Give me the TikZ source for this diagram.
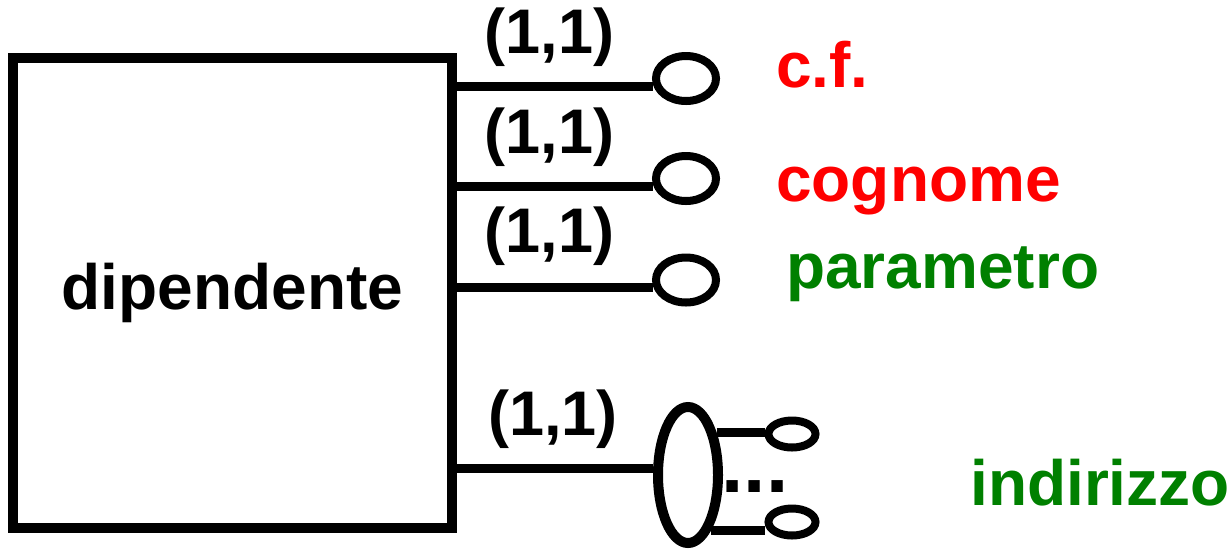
\documentclass[tikz,border=0pt]{standalone}
\usepackage{fontspec}
\setmainfont{Liberation Sans}
\usepackage{xcolor}
\usetikzlibrary{positioning, shapes.geometric}

\definecolor{keyred}{RGB}{255,0,0}
\definecolor{attrgreen}{RGB}{0,128,0}

\tikzset{
    entity/.style={draw, line width=10pt, minimum width=439pt, minimum height=470pt, inner sep=0pt},
    attr/.style={draw, ellipse, line width=8pt, minimum width=60pt, minimum height=45pt, inner sep=0pt},
    subattr/.style={draw, ellipse, line width=8pt, minimum width=47pt, minimum height=27pt, inner sep=0pt},
    link/.style={line width=9pt},
    card/.style={font=\fontsize{63}{63}\selectfont\bfseries, inner sep=0pt},
    attrname/.style={font=\fontsize{64}{64}\selectfont\bfseries, inner sep=0pt, anchor=base west}
}

\begin{document}
\begin{tikzpicture}[x=1pt, y=-1pt]
    \useasboundingbox (0,0) rectangle (1228,550);
	\node[entity] (dip) at (232.5,293) {\fontsize{64}{64}\selectfont\bfseries dipendente};
    % attributi semplici
    \node[attr] (cf) at (686,78.5) {};
    \node[attr] (cogn) at (686,178.5) {};
    \node[attr] (param) at (686,280) {};
    \draw[link] (dip.east |- cf.193) -- (cf.193) node[card, pos=.47, above=15pt] {(1,1)};
    \draw[link] (dip.east |- cogn.193) -- (cogn.193) node[card, pos=.47, above=15pt] {(1,1)};
    \draw[link] (dip.east |- param.193) -- (param.193) node[card, pos=.47, above=17pt] {(1,1)};
    \node[attrname, text=keyred] (cfname) at (776,87) {c.f.};
    \node[attrname, text=keyred] (cognname) at (776,201) {cognome};
    \node[attrname, text=attrgreen] (paramname) at (786,288) {parametro};
    % attributo composto
    \node[draw, ellipse, line width=10pt, minimum width=60pt, minimum height=136pt, inner sep=0pt] (ind) at (688,475) {};
    \draw[link] (dip.east |- ind.170) -- (ind.170) node[card, pos=.49, above=16pt] {(1,1)};
    \node[subattr] (sub1) at (792,434) {};
    \node[subattr] (sub2) at (792,522) {};
    \draw[link] (ind.56) -- (ind.56 -| sub1.west);
    \draw[link] (ind.-68) -- (ind.-68 -| sub2.west);
    \node[font=\fontsize{80}{80}\selectfont\bfseries, inner sep=0pt, anchor=base] (dots) at (755,492) {...};
    \node[attrname, text=attrgreen] (indname) at (970,505) {indirizzo};
\end{tikzpicture}
\end{document}
